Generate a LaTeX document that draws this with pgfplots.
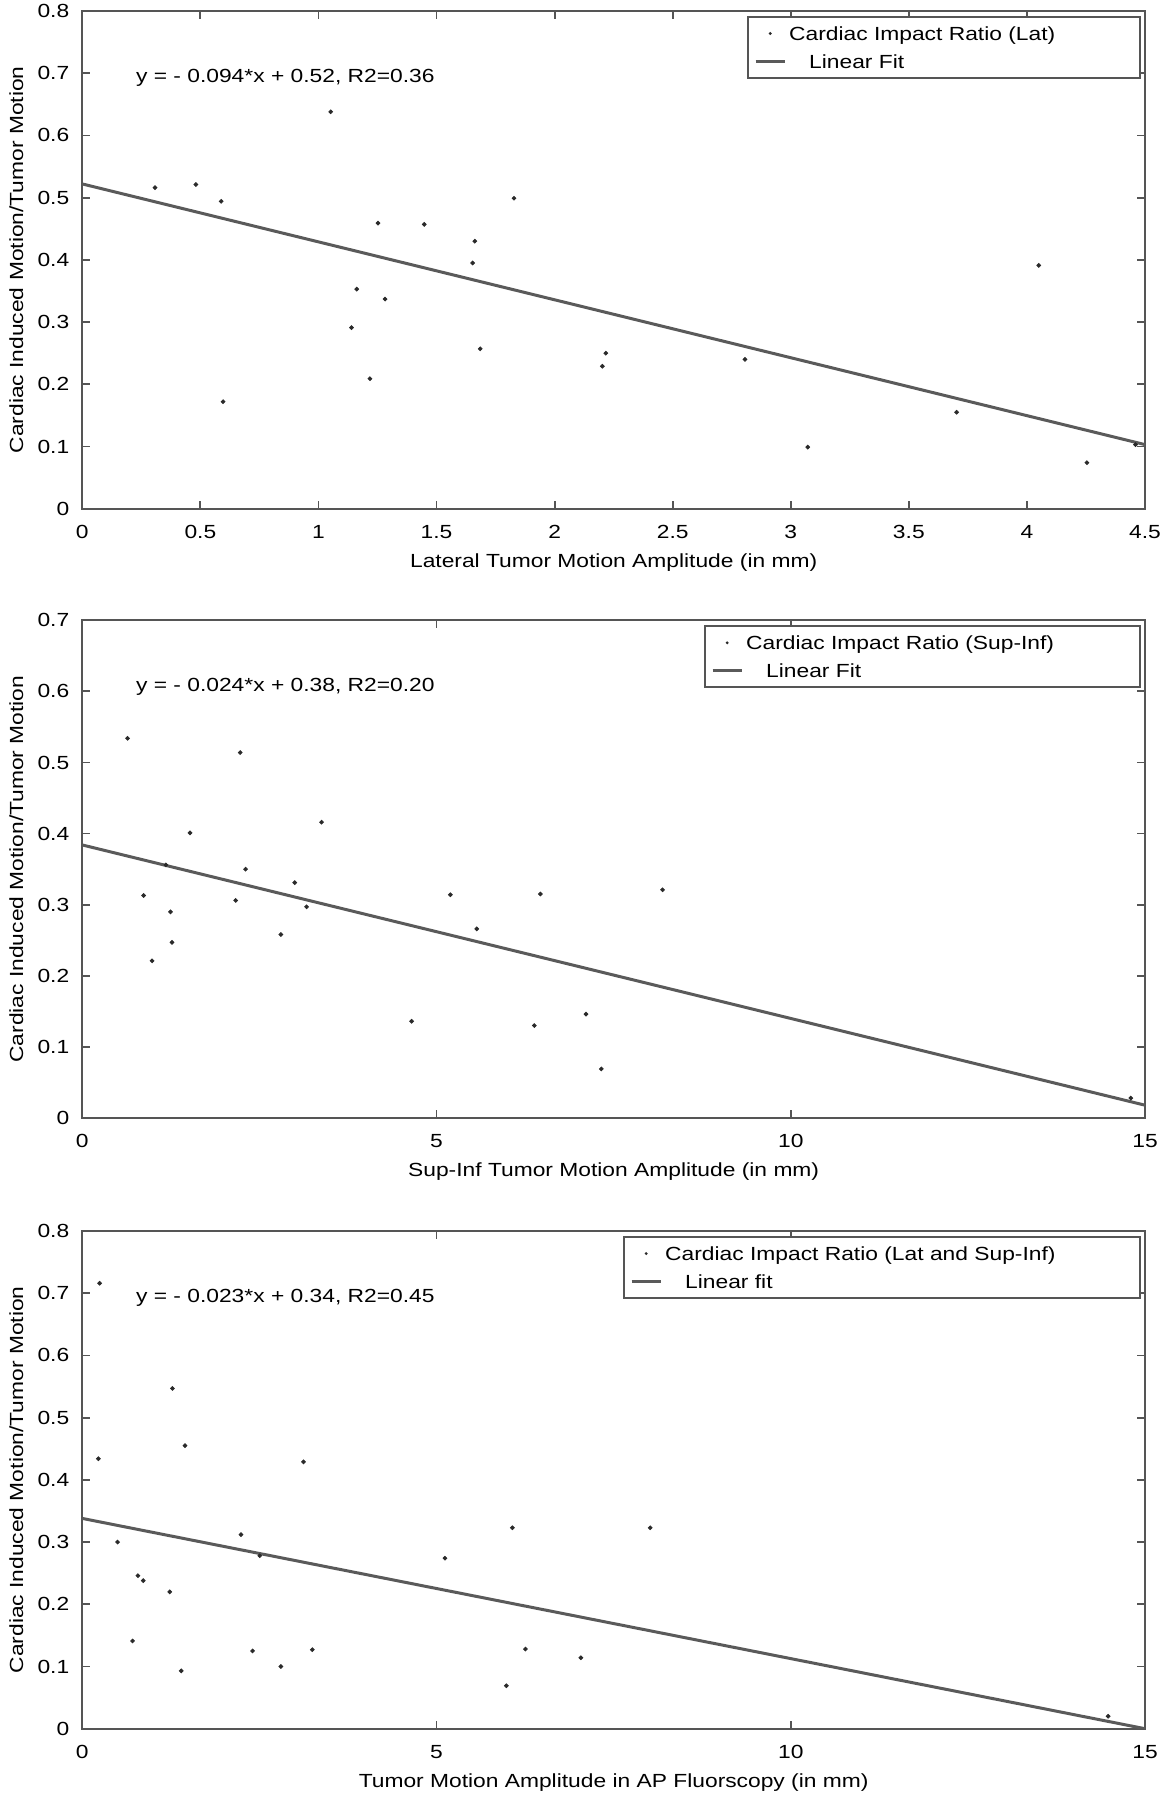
\documentclass[border=0pt]{standalone}
\usepackage{fontspec}
\setmainfont{Liberation Sans}[FakeStretch=1.2]
\usepackage{pgfplots}
\pgfplotsset{compat=1.18}
\definecolor{axgray}{HTML}{555555}
\definecolor{fitgray}{HTML}{5A5A5A}
\definecolor{dotc}{HTML}{2A2A2A}
\pgfplotsset{
  cir/.style={
    scale only axis, width=531.35pt, height=248.85pt,
    anchor=south west,
    font=\fontsize{9.5}{11}\selectfont,
    /pgf/number format/assume math mode=true,
    /pgf/number format/fixed,
    tick align=inside, major tick length=4pt,
    axis line style={axgray, line width=0.9pt},
    every tick/.style={axgray, line width=0.9pt},
    xticklabel style={yshift=-4.8pt},
    yticklabel style={xshift=-3pt},
    xlabel style={at={(axis description cs:0.5,0)}, anchor=center, yshift=-27pt},
    ylabel style={at={(axis description cs:-0.062,0.5)}, anchor=center},
    ylabel={Cardiac Induced Motion/Tumor Motion},
    legend cell align=left,
    legend style={at={(axis description cs:1,1)}, anchor=north east,
      xshift=-2pt, yshift=-2.5pt, draw=axgray, line width=0.8pt, fill=white,
      inner xsep=3pt, inner ysep=3.375pt,
      nodes={inner sep=0pt, text height=8.5pt, text depth=1.5pt},
      row sep=3.75pt, column sep=1.5pt},
  },
  dots/.style={only marks, mark=*, mark size=0.95pt, color=dotc,
    legend image code/.code={\path[draw=none, fill=none] (0pt,0pt) -- (14.5pt,0pt); \path[draw=none, fill=dotc] (7.25pt,0pt) circle (0.8pt);}},
  fit/.style={no marks, color=fitgray, line width=1.5pt,
    legend image code/.code={\draw[fitgray, line width=1.5pt] (0pt,0pt) -- (14.5pt,0pt);}},
}
\begin{document}
\begin{tikzpicture}
\useasboundingbox (0,0) rectangle (581.5pt,900pt);
% Panel 1
\begin{axis}[cir, at={(41.15pt,645.65pt)},
  xmin=0, xmax=4.5, ymin=0, ymax=0.8,
  xtick={0,0.5,1,1.5,2,2.5,3,3.5,4,4.5},
  ytick={0,0.1,0.2,0.3,0.4,0.5,0.6,0.7,0.8},
  xlabel={Lateral Tumor Motion Amplitude (in mm)}]
\addplot[dots] coordinates {
(0.308,0.516) (0.481,0.521) (0.588,0.494) (0.596,0.172) (1.052,0.638)
(1.140,0.291) (1.162,0.353) (1.218,0.209) (1.252,0.459) (1.282,0.337)
(1.448,0.457) (1.653,0.395) (1.662,0.430) (1.685,0.257) (1.828,0.499)
(2.202,0.229) (2.217,0.250) (2.806,0.240) (3.072,0.099) (3.702,0.155)
(4.050,0.391) (4.254,0.074) (4.46,0.103)};
\addlegendentry{\makebox[172.5pt][l]{Cardiac Impact Ratio (Lat)}}
\addplot[fit] coordinates {(0,0.522) (4.5,0.103)};
\addlegendentry{\hspace*{10pt}Linear Fit}
\node[anchor=base west, inner sep=0pt] at (rel axis cs:0.0502,0.856) {y = - 0.094*x + 0.52, R2=0.36};
\end{axis}
% Panel 2
\begin{axis}[cir, at={(41.15pt,341pt)},
  xmin=0, xmax=15, ymin=0, ymax=0.7,
  xtick={0,5,10,15},
  ytick={0,0.1,0.2,0.3,0.4,0.5,0.6,0.7},
  xlabel={Sup-Inf Tumor Motion Amplitude (in mm)}]
\addplot[dots] coordinates {
(0.639,0.534) (0.866,0.313) (0.985,0.221) (1.180,0.356) (1.245,0.290)
(1.266,0.247) (1.521,0.401) (2.165,0.306) (2.229,0.514) (2.305,0.350)
(2.803,0.258) (2.998,0.331) (3.166,0.297) (3.377,0.416) (4.648,0.136)
(5.195,0.314) (5.568,0.266) (6.380,0.130) (6.466,0.315) (7.110,0.146)
(7.326,0.069) (8.190,0.321) (14.80,0.028)};
\addlegendentry{\makebox[194pt][l]{Cardiac Impact Ratio (Sup-Inf)}}
\addplot[fit] coordinates {(0,0.384) (15,0.018)};
\addlegendentry{\hspace*{10pt}Linear Fit}
\node[anchor=base west, inner sep=0pt] at (rel axis cs:0.0502,0.856) {y = - 0.024*x + 0.38, R2=0.20};
\end{axis}
% Panel 3
\begin{axis}[cir, at={(41.15pt,35.65pt)},
  xmin=0, xmax=15, ymin=0, ymax=0.8,
  xtick={0,5,10,15},
  ytick={0,0.1,0.2,0.3,0.4,0.5,0.6,0.7,0.8},
  xlabel={Tumor Motion Amplitude in AP Fluorscopy (in mm)}]
\addplot[dots] coordinates {
(0.244,0.716) (0.227,0.434) (0.498,0.300) (0.709,0.141) (0.785,0.246)
(0.860,0.238) (1.234,0.220) (1.272,0.547) (1.396,0.093) (1.450,0.455)
(2.240,0.312) (2.403,0.125) (2.505,0.278) (2.803,0.100) (3.122,0.429)
(3.247,0.127) (5.119,0.274) (5.985,0.069) (6.071,0.323) (6.255,0.128)
(7.037,0.114) (8.016,0.323) (14.48,0.020)};
\addlegendentry{\makebox[234.5pt][l]{Cardiac Impact Ratio (Lat and Sup-Inf)}}
\addplot[fit] coordinates {(0,0.338) (15,0.0)};
\addlegendentry{\hspace*{10pt}Linear fit}
\node[anchor=base west, inner sep=0pt] at (rel axis cs:0.0502,0.856) {y = - 0.023*x + 0.34, R2=0.45};
\end{axis}
\end{tikzpicture}
\end{document}
